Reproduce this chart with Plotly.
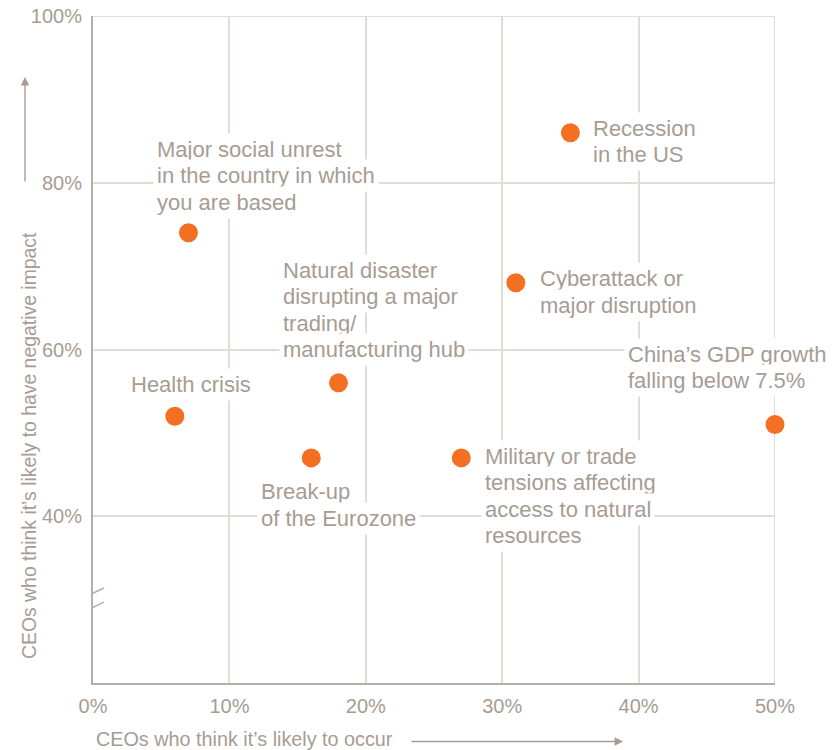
import plotly.graph_objects as go

# Risk survey: share of CEOs who think each event is likely to occur (x)
# versus share who think it would have a negative impact (y), in percent.
risks = [
    "Recession\nin the US",
    "Major social unrest\nin the country in which\nyou are based",
    "Cyberattack or\nmajor disruption",
    "Natural disaster\ndisrupting a major\ntrading/\nmanufacturing hub",
    "China’s GDP growth\nfalling below 7.5%",
    "Health crisis",
    "Break-up\nof the Eurozone",
    "Military or trade\ntensions affecting\naccess to natural\nresources",
]
likely_to_occur = [35, 7, 31, 18, 50, 6, 16, 27]
negative_impact = [86, 74, 68, 56, 51, 52, 47, 47]

x_ticks = [0, 10, 20, 30, 40, 50]
y_ticks = [40, 60, 80, 100]

# label placement relative to each dot (pixels): left edge offset, block centre offset
label_offsets = [(22, -9), (-32, 57), (23, -9), (-57, 73),
                 (-148, 57), (-45, 32), (-51, -47), (23, -38)]

TEXT = "#a79c93"
AXIS = "#b9aea6"
GRID = "#e2dcd7"
DOT = "#f36f21"
FONT = "Liberation Sans, Arial, Helvetica, sans-serif"
LINE_GAP = 26.5

W, H = 833, 750
ML, MR, MT, MB = 93, 58, 16, 67
PW, PH = W - ML - MR, H - MT - MB

fig = go.Figure()
fig.add_trace(go.Scatter(
    x=likely_to_occur, y=negative_impact, mode="markers",
    marker=dict(size=19, color=DOT, line=dict(width=0)),
    hoverinfo="skip", showlegend=False, cliponaxis=False,
))

annotations = []
for name, xv, yv, (dx, dy) in zip(risks, likely_to_occur, negative_impact, label_offsets):
    lines = name.split("\n")
    n = len(lines)
    for i, line in enumerate(lines):
        shift = dy + ((n - 1) / 2 - i) * LINE_GAP
        annotations.append(dict(
            x=xv, y=yv, xref="x", yref="y", text=line, showarrow=False,
            xanchor="left", yanchor="middle", align="left",
            xshift=dx - 3, yshift=shift,
            font=dict(family=FONT, size=22, color=TEXT),
            bgcolor="white", borderpad=3,
        ))

# axis titles
annotations.append(dict(
    x=(95 - ML) / PW, y=(H - MB - 739) / PH, xref="paper", yref="paper",
    text="CEOs who think it’s likely to occur", showarrow=False,
    xanchor="left", yanchor="middle", borderpad=0,
    font=dict(family=FONT, size=19.8, color=TEXT),
))
annotations.append(dict(
    x=(29 - ML) / PW, y=(H - MB - 446) / PH, xref="paper", yref="paper",
    text="CEOs who think it’s likely to have negative impact", showarrow=False,
    textangle=-90, xanchor="center", yanchor="middle",
    font=dict(family=FONT, size=19.4, color=TEXT),
))
# direction arrows next to the axis titles
annotations.append(dict(
    x=(623 - ML) / PW, y=(H - MB - 741.5) / PH, xref="paper", yref="paper",
    text="", showarrow=True, ax=-213, ay=0, axref="pixel", ayref="pixel",
    arrowhead=2, arrowsize=1.2, arrowwidth=1.4, arrowcolor=TEXT,
))
annotations.append(dict(
    x=(25 - ML) / PW, y=(H - MB - 77) / PH, xref="paper", yref="paper",
    text="", showarrow=True, ax=0, ay=106, axref="pixel", ayref="pixel",
    arrowhead=2, arrowsize=1.2, arrowwidth=1.4, arrowcolor=TEXT,
))

shapes = [
    # light top and right frame
    dict(type="line", xref="x", yref="y", x0=0, x1=50, y0=100, y1=100,
         line=dict(color="#d9d0ca", width=1.5), layer="below"),
    dict(type="line", xref="x", yref="y", x0=50, x1=50, y0=20, y1=100,
         line=dict(color="#d9d0ca", width=1.5), layer="below"),
    # axis break on the y axis
    dict(type="rect", xref="x", yref="y", xsizemode="pixel", ysizemode="pixel",
         xanchor=0, yanchor=30, x0=-3, x1=3, y0=-7, y1=7,
         fillcolor="white", line=dict(width=0), layer="above"),
    dict(type="line", xref="x", yref="y", xsizemode="pixel", ysizemode="pixel",
         xanchor=0, yanchor=30.8, x0=-10, x1=11, y0=-5, y1=5,
         line=dict(color=AXIS, width=1.5), layer="above"),
    dict(type="line", xref="x", yref="y", xsizemode="pixel", ysizemode="pixel",
         xanchor=0, yanchor=29.1, x0=-10, x1=11, y0=-5, y1=5,
         line=dict(color=AXIS, width=1.5), layer="above"),
]

fig.update_layout(
    width=W, height=H,
    margin=dict(l=ML, r=MR, t=MT, b=MB, pad=0, autoexpand=False),
    paper_bgcolor="white", plot_bgcolor="white",
    font=dict(family=FONT, color=TEXT, size=20),
    annotations=annotations, shapes=shapes,
    xaxis=dict(
        range=[0, 50], tickvals=x_ticks, ticktext=[f"{v}%" for v in x_ticks],
        showgrid=True, gridcolor=GRID, gridwidth=1.5,
        showline=True, linecolor=AXIS, linewidth=2,
        zeroline=False, ticks="", ticklabelstandoff=4, automargin=False,
        tickfont=dict(family=FONT, size=20, color=TEXT), fixedrange=True,
    ),
    yaxis=dict(
        range=[20, 100], tickvals=y_ticks, ticktext=[f"{v}%" for v in y_ticks],
        showgrid=True, gridcolor=GRID, gridwidth=1.5,
        showline=True, linecolor=AXIS, linewidth=2,
        zeroline=False, ticks="", ticklabelstandoff=5, automargin=False,
        tickfont=dict(family=FONT, size=20, color=TEXT), fixedrange=True,
    ),
)

fig.write_html("out.html")
